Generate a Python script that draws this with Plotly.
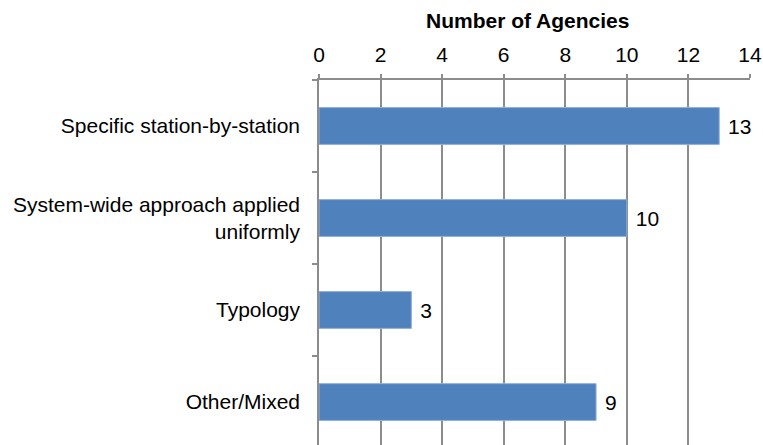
import plotly.graph_objs as go

# Datos del gráfico
categorias = ["Specific station-by-station",
              "System-wide approach applied<br>uniformly",
              "Typology",
              "Other/Mixed"]
agencias = [13, 10, 3, 9]
ticks_x = [0, 2, 4, 6, 8, 10, 12, 14]

gris = '#8c8c8c'
fuente = 'Liberation Sans, Arial, sans-serif'

fig = go.Figure()

fig.add_trace(
    go.Bar(
        x=agencias,
        y=categorias,
        orientation='h',
        width=0.4,
        marker=dict(color='#4F81BD', line=dict(color='#8FB0DA', width=1)),
        texttemplate=' %{x}',
        textposition='outside',
        textfont=dict(size=21, color='black', family=fuente),
        cliponaxis=False,
    )
)

fig.update_layout(
    width=763,
    height=445,
    margin=dict(l=319, r=13, t=80, b=0),
    paper_bgcolor='white',
    plot_bgcolor='white',
    showlegend=False,
    font=dict(family=fuente, size=21, color='black'),
    xaxis=dict(
        side='top',
        range=[0, 14],
        tickvals=ticks_x,
        showgrid=True,
        gridcolor=gris,
        gridwidth=1.5,
        showline=True,
        linecolor=gris,
        linewidth=1.5,
        ticks='outside',
        ticklen=4,
        tickcolor=gris,
        tickwidth=1.5,
        ticklabelstandoff=4,
        zeroline=False,
    ),
    yaxis=dict(
        autorange=False,
        range=[3.467, -0.5],
        showline=True,
        linecolor=gris,
        linewidth=1.5,
        ticks='outside',
        tickson='boundaries',
        ticklen=5,
        tickcolor=gris,
        tickwidth=1.5,
        ticklabelstandoff=13,
        showgrid=False,
    ),
    annotations=[
        dict(
            text='<b>Number of Agencies</b>',
            xref='paper', yref='paper',
            x=0.4826, y=1,
            xanchor='center', yanchor='middle',
            yshift=60,
            showarrow=False,
            font=dict(size=21),
        )
    ],
)

# Quitar el margen del body para que la figura ocupe toda la ventana
fig.write_html(
    "out.html",
    config={'displayModeBar': False},
    post_script="document.body.style.margin='0';",
)
